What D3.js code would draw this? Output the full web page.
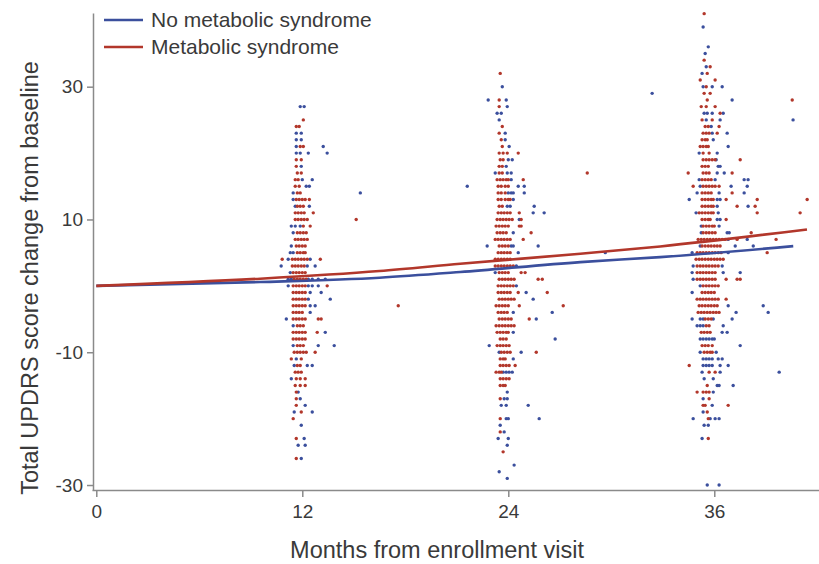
<!DOCTYPE html>
<html>
<head>
<meta charset="utf-8">
<script src="https://cdn.jsdelivr.net/npm/d3@7"></script>
<style>
  body { margin: 0; background: #fff; }
  svg { display: block; font-family: "Liberation Sans", Arial, sans-serif; }
</style>
</head>
<body>
<svg id="chart" width="819" height="564"></svg>
<script>
// each row: [score change, months of "Metabolic syndrome" dots, months of "No metabolic syndrome" dots]
const visit12 = [
  [27, "", "11.88 12.11"],
  [25, "12.06", ""],
  [24, "11.65 11.82", ""],
  [23, "", "11.65 11.94"],
  [22, "", "11.65 11.94"],
  [21, "11.88 12.06", "11.65 13.22"],
  [20, "", "11.65 11.88 12.35 13.45"],
  [19, "11.65 11.94", ""],
  [18, "11.65", "11.94"],
  [17, "11.71 11.94", ""],
  [16, "11.59 11.76", "12.00 12.58"],
  [15, "11.59 11.82", "12.23 12.41"],
  [14, "11.71 11.88", "11.47 15.38"],
  [13, "11.65 11.82 12.00 12.17 12.41", "11.47"],
  [12, "11.71 11.88 12.06", "11.59 12.41"],
  [11, "11.59 11.76 11.94 12.11 12.64", ""],
  [10, "11.59 11.76 11.94 12.11 12.29 15.14", ""],
  [9, "12.06 12.46", "11.36 11.59 11.88"],
  [8, "11.71 11.88 12.06 12.23", "11.47"],
  [7, "11.59 11.76 11.94 12.11 12.29", ""],
  [6, "11.65 11.82 12.00 12.17", "11.36"],
  [5, "11.71 11.88 12.06 12.17", "11.30 11.47"],
  [4, "10.83 11.42 11.59 11.76 11.94 12.11 12.29 13.05", "11.18 12.46"],
  [3, "11.42 11.59 11.76 11.94 12.11", "10.77 12.29 12.75"],
  [2, "11.47 11.65 11.82 12.00 12.17", "11.30"],
  [1, "11.53 11.71 11.88 12.06 12.23", "11.18 11.36 12.35 12.58 12.93 13.34"],
  [0, "11.47 11.65 11.82 12.00 12.17 13.45", "11.18 12.35 12.58 12.93"],
  [-1, "11.47 11.65 11.82 12.00 12.17", "12.46 13.10"],
  [-2, "11.47 11.65 11.82 12.00 12.17", "12.35 13.63"],
  [-3, "11.47 11.65 11.82 12.00 12.17", "12.46 12.75"],
  [-4, "11.47 11.65 11.82 12.00", "12.46"],
  [-5, "11.47 11.65 11.82 12.00 12.17 12.93 13.10", "11.07"],
  [-6, "11.71 11.88 12.06", "11.47"],
  [-7, "11.47 11.65 11.82 12.00 12.17 12.87", "13.34"],
  [-8, "11.47 11.65 11.82 12.00 12.17", ""],
  [-9, "11.71 11.88 12.06", "11.47 12.93 13.86"],
  [-10, "11.53 11.71 11.88 12.06 12.23 12.75", ""],
  [-11, "11.36 11.94", "11.65"],
  [-12, "11.71 11.88", "11.53 12.29 12.58"],
  [-13, "11.59 11.76 11.94", ""],
  [-14, "11.65 11.88 12.17", "11.36"],
  [-15, "11.59 11.88 12.17", ""],
  [-16, "11.65", "11.76"],
  [-17, "11.65", "11.88"],
  [-18, "11.65", "12.17"],
  [-19, "11.94", "11.53 12.58"],
  [-20, "11.47", ""],
  [-21, "", "11.94"],
  [-23, "11.65", "12.11"],
  [-24, "", "11.76 12.17"],
  [-26, "11.65", "11.94"]
];

const visit24 = [
  [32, "23.53", ""],
  [30, "", "23.65"],
  [28, "23.47", "22.83 23.88"],
  [27, "23.47", "23.94"],
  [26, "", "23.35 23.59"],
  [25, "", "23.47"],
  [24, "23.65", ""],
  [23, "23.47", "23.82"],
  [22, "23.59", "23.82"],
  [21, "23.65", "24.05"],
  [20, "23.47 23.70 23.94 24.58", ""],
  [19, "23.53 23.70", "24.00 24.23"],
  [18, "23.47 23.65", "23.88"],
  [17, "23.47 23.65", "23.24 23.94 24.17"],
  [16, "23.35 23.53 23.70 23.88 24.00 24.87", "24.17"],
  [15, "23.41 23.59 23.82 24.00", "21.61 24.58 24.93"],
  [14, "23.41 23.59 23.82", "24.00 24.17 24.29 24.93"],
  [13, "23.41 23.59 23.82 24.00 24.11", "24.29"],
  [12, "23.47 23.65", "23.94 24.11 25.51"],
  [11, "23.41 23.59 23.76 23.94 24.11 24.64", "25.45 26.09"],
  [10, "23.35 23.53 23.70 23.88 24.05 24.23 24.75", "24.64"],
  [9, "23.29 23.47 23.65 23.82 24.00 24.64 24.75", ""],
  [8, "23.35 23.53 23.70 23.88 25.33", "24.29"],
  [7, "23.24 23.41 23.59 23.76 23.94 24.11 24.87", ""],
  [6, "23.47 23.65 23.82 24.00", "22.77 24.17 24.29 25.74"],
  [5, "23.41 23.59 23.76 23.94 24.11", "24.58 29.65"],
  [4, "23.24 23.41 23.59 23.76 23.94 24.11", ""],
  [3, "23.24 23.41 23.59 23.76 23.94 24.11 24.29", "24.47"],
  [2, "23.47 23.65 23.82 24.00 24.75 24.98", "23.24"],
  [1, "23.47 23.65 23.82 24.00 24.17 24.34 25.74 25.98", ""],
  [0, "23.41 23.59 23.76 23.94 24.11 24.29", "24.47"],
  [-1, "23.41 23.59 23.76 23.94 24.11 24.58 26.27", "25.04"],
  [-2, "23.47 23.65 23.82 24.00 24.17 24.34", "25.45"],
  [-3, "23.29 23.47 23.65 23.82 24.00 24.64 27.20", ""],
  [-4, "23.41 23.59 23.76 23.94", "24.29 26.56"],
  [-5, "23.47 23.65 23.82 24.00 24.17 25.22", "25.63"],
  [-6, "23.29 23.47 23.65 23.82 24.00 24.17 24.34", ""],
  [-7, "23.35 23.53 23.70 23.88 24.00", "24.29"],
  [-8, "23.53 23.70 23.88", "26.73"],
  [-9, "23.35 23.53 23.70 23.88 24.05", "22.89"],
  [-10, "23.59 23.76 23.94 24.11 25.63", "23.47 24.75"],
  [-11, "23.53 23.70 23.82", "24.29"],
  [-12, "23.53 23.70 23.88 24.05 24.40", ""],
  [-13, "23.29 23.47 23.59", "23.70 23.88 24.05 24.23"],
  [-14, "23.53 23.70 23.88 24.05", ""],
  [-15, "23.53 23.70 23.82", ""],
  [-16, "", "23.94"],
  [-17, "23.53", "23.76 23.94"],
  [-18, "", "23.59 23.88 25.16"],
  [-20, "23.53", "23.88 24.00 25.80"],
  [-21, "", "23.53"],
  [-22, "23.53", "23.76"],
  [-23, "", "23.41 24.00"],
  [-24, "", "23.94"],
  [-25, "23.70", ""],
  [-27, "", "24.34"],
  [-28, "", "23.47"],
  [-29, "", "23.94"]
];

const visit36 = [
  [41, "35.41", ""],
  [39, "", "35.35"],
  [36, "", "35.65"],
  [35, "", "35.47"],
  [34, "35.41", ""],
  [33, "35.76", "35.53"],
  [32, "35.59", "35.29"],
  [31, "35.18 36.05", ""],
  [30, "35.53", "35.35 35.88 36.46"],
  [29, "35.41 35.76", "32.38"],
  [28, "35.59 40.54", "37.04"],
  [27, "35.24 35.53 36.05", ""],
  [26, "36.34", "35.41 35.59 35.88 36.52"],
  [25, "35.29 35.88", "35.53 36.34 40.59"],
  [24, "35.47 35.65 36.28", "35.82"],
  [23, "35.35 35.53 35.70 36.17", "35.88 36.75"],
  [22, "35.29 35.47 35.59", "35.94"],
  [21, "35.18 35.35 35.53 35.65", "36.81"],
  [20, "35.35 35.70", "35.12 36.17"],
  [19, "35.35 35.53 35.70 35.88 36.05 37.51", "36.11"],
  [18, "35.29 35.47 35.65", "36.23 36.34"],
  [17, "28.60 34.48 35.35 35.53 35.70 37.04", "36.17 36.58"],
  [16, "35.29 35.47 35.65 35.82", "35.12 36.05 37.74 37.97"],
  [15, "34.77 35.35 35.53 35.70 35.88 36.05 36.28", "35.18 36.98 37.92"],
  [14, "35.29 35.47 35.65 35.82 37.04", "35.00 36.28 37.74"],
  [13, "35.29 35.47 35.65 35.82 35.94 36.69 38.50 41.41", "34.54 36.17 36.34"],
  [12, "35.29 35.47 35.65 35.82 35.94 37.33 38.38", "36.17 37.97"],
  [11, "35.12 35.29 35.47 35.65 35.82 35.94 38.50 41.00", "34.94 36.23"],
  [10, "35.29 35.47 35.65 35.76 36.69", "36.17 36.34"],
  [9, "35.35 35.53 35.70 35.88 36.00", "35.24 36.28"],
  [8, "35.35 35.53 35.70 35.88 36.05 38.15", "35.24 36.75 36.87"],
  [7, "35.06 35.24 35.41 35.59 35.76 35.94 36.11 36.28 36.46 36.63 37.33 39.60", "36.81 37.92"],
  [6, "35.29 35.47 35.65 35.82 36.00 36.17 36.34", "35.18 37.22 38.27"],
  [5, "35.00 35.18 35.35 35.53 35.70 35.88 36.05 36.23 36.40 39.08", "34.71 36.81"],
  [4, "34.94 35.12 35.29 35.47 35.65 35.82 36.00 36.17 36.34 36.52", ""],
  [3, "35.00 35.18 35.35 35.53 35.70 35.88 36.05 36.23", "34.77 36.46"],
  [2, "35.00 35.18 35.35 35.53 35.70 35.88 36.05", "34.71 36.52 37.51"],
  [1, "35.00 35.18 35.35 35.53 35.70 35.88 36.05 36.69 37.33 37.51", "34.77"],
  [0, "35.35 35.53 35.70 35.88 36.05 36.23", "35.18"],
  [-1, "35.29 35.47 35.65 35.82 36.00", "34.71"],
  [-2, "35.00 35.18 35.35 35.53 35.70 35.88 36.05 36.23 36.69", ""],
  [-3, "17.59 35.12 35.29 35.47 35.65 35.82 36.00 36.17", "36.81 38.85"],
  [-4, "35.06 35.24 35.41 35.59 35.76 35.94 36.11 36.28", "37.27 39.14"],
  [-5, "35.47 35.65 35.82", "34.71 35.18 35.35 35.94 37.04"],
  [-6, "35.53 35.70", "35.00 35.18 35.35 36.52"],
  [-7, "35.24 35.41 35.59 35.76", "36.46 36.75"],
  [-8, "", "35.18 35.35 35.53 35.70 35.88 36.00"],
  [-9, "35.29 35.47 35.65 35.88", "37.51"],
  [-10, "35.41 35.59 35.76 35.88", "35.18 36.11"],
  [-11, "", "35.35 35.53 35.70 35.88 36.23 36.46"],
  [-12, "34.54", "35.35 35.53 35.70 35.88 36.34 36.81"],
  [-13, "35.70 36.05", "35.29 36.34 39.78"],
  [-14, "", "35.41 35.94"],
  [-15, "35.59", "36.17 36.28 37.10"],
  [-16, "35.00 35.35 35.53 35.70", "35.94"],
  [-17, "35.70", "35.35"],
  [-18, "35.35 35.47 36.81", "35.88"],
  [-19, "35.59", "35.35"],
  [-20, "35.65", "34.77 35.76 36.05 36.28"],
  [-21, "", "35.41 35.65"],
  [-23, "35.65", "35.29"],
  [-30, "", "35.59 36.28"]
];

// fitted trajectories (month, predicted change)
const noMetsMonths = [0, 9.55, 16.5, 21.2, 28.2, 32.85, 40.6];
const noMetsFit = [0, 0.57, 1.23, 2.08, 3.58, 4.33, 5.98];
const metsMonths = [0, 9.55, 16.5, 21.2, 28.2, 32.85, 41.4];
const metsFit = [0, 1.08, 2.23, 3.33, 4.84, 5.94, 8.5];

const xTicks = [0, 12, 24, 36];
const yTicks = [-30, -10, 10, 30];
const groups = ["No metabolic syndrome", "Metabolic syndrome"];
const colors = ["#3b4f9d", "#b2372b"];

const svg = d3.select("#chart");
const x = d3.scaleLinear().domain([-0.25, 42.1]).range([92, 819]);
const y = d3.scaleLinear().domain([-30.75, 41.1]).range([490, 13]);

// flatten rows into points
const blue = [], red = [];
[visit12, visit24, visit36].forEach(rows => {
  rows.forEach(([v, r, b]) => {
    r.split(" ").filter(s => s).forEach(m => red.push([+m, v]));
    b.split(" ").filter(s => s).forEach(m => blue.push([+m, v]));
  });
});

svg.append("g").selectAll("circle").data(blue).join("circle")
  .attr("cx", d => x(d[0])).attr("cy", d => y(d[1])).attr("r", 1.7)
  .attr("fill", colors[0]);
svg.append("g").selectAll("circle").data(red).join("circle")
  .attr("cx", d => x(d[0])).attr("cy", d => y(d[1])).attr("r", 1.7)
  .attr("fill", colors[1]);

const line = d3.line().x(d => x(d[0])).y(d => y(d[1])).curve(d3.curveMonotoneX);
svg.append("path").datum(d3.zip(noMetsMonths, noMetsFit))
  .attr("d", line).attr("fill", "none").attr("stroke", colors[0]).attr("stroke-width", 2.6);
svg.append("path").datum(d3.zip(metsMonths, metsFit))
  .attr("d", line).attr("fill", "none").attr("stroke", colors[1]).attr("stroke-width", 2.6);

// axes (plain hyphen for negatives, like the original)
const xAxis = svg.append("g").attr("transform", "translate(0,490)")
  .call(d3.axisBottom(x).tickValues(xTicks).tickSize(7).tickSizeOuter(0).tickPadding(8)
    .tickFormat(d => String(d)));
const yAxis = svg.append("g").attr("transform", "translate(93,0)")
  .call(d3.axisLeft(y).tickValues(yTicks).tickSize(6).tickSizeOuter(0).tickPadding(4)
    .tickFormat(d => String(d)));
[xAxis, yAxis].forEach(g => {
  g.select(".domain").attr("stroke", "#8a8a8a").attr("stroke-width", 1.5);
  g.selectAll(".tick line").attr("stroke", "#8a8a8a").attr("stroke-width", 1.5);
  g.selectAll(".tick text").attr("fill", "#3a3a3a").style("font-size", "19px")
    .style("font-family", "'Liberation Sans', Arial, sans-serif");
});

// axis titles
svg.append("text").attr("x", 437).attr("y", 558).attr("text-anchor", "middle")
  .attr("fill", "#3a3a3a").style("font-size", "23.5px").text("Months from enrollment visit");
svg.append("text").attr("transform", "translate(38,278) rotate(-90)").attr("text-anchor", "middle")
  .attr("fill", "#3a3a3a").style("font-size", "23.5px").text("Total UPDRS score change from baseline");

// legend
const legend = svg.append("g");
groups.forEach((g, i) => {
  const ly = 20 + i * 27;
  legend.append("line").attr("x1", 104).attr("x2", 143).attr("y1", ly).attr("y2", ly)
    .attr("stroke", colors[i]).attr("stroke-width", 2.6);
  legend.append("text").attr("x", 151).attr("y", ly + 7).attr("fill", "#3a3a3a")
    .style("font-size", "21px").text(g);
});
</script>
</body>
</html>
